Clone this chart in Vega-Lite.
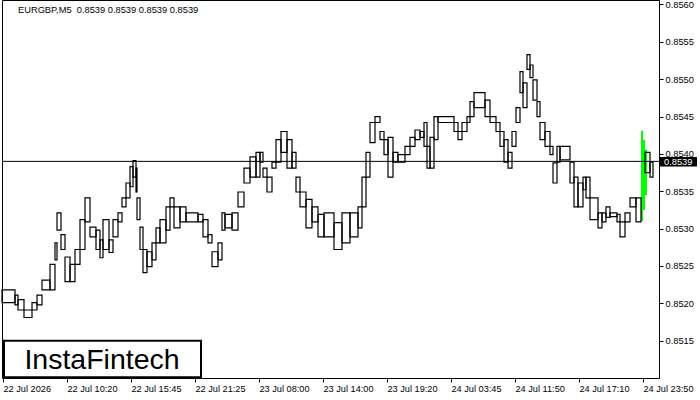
{
  "$schema": "https://vega.github.io/schema/vega-lite/v6.json",
  "width": 657,
  "height": 378,
  "autosize": {"type": "none"},
  "padding": {"left": 2, "top": 0, "right": 41, "bottom": 22},
  "background": "white",
  "config": {
    "view": {"stroke": "black", "strokeWidth": 1},
    "font": "Liberation Sans"
  },
  "datasets": {
    "bars": [
      {"a":2,"b":15,"h":0.85218,"l":0.85201},
      {"a":15,"b":18,"h":0.85211,"l":0.85198},
      {"a":18,"b":24,"h":0.85205,"l":0.85191},
      {"a":24,"b":32,"h":0.85191,"l":0.85181},
      {"a":32,"b":37,"h":0.85201,"l":0.85191},
      {"a":37,"b":42,"h":0.85211,"l":0.85198},
      {"a":42,"b":50,"h":0.85231,"l":0.85218},
      {"a":50,"b":55,"h":0.85252,"l":0.85218},
      {"a":55,"b":57,"h":0.85281,"l":0.85258},
      {"a":57,"b":61,"h":0.85321,"l":0.85298},
      {"a":61,"b":65,"h":0.85292,"l":0.85272},
      {"a":65,"b":70,"h":0.85262,"l":0.85229},
      {"a":70,"b":75,"h":0.85252,"l":0.85229},
      {"a":75,"b":80,"h":0.85272,"l":0.85252},
      {"a":80,"b":85,"h":0.85312,"l":0.85272},
      {"a":85,"b":90,"h":0.85341,"l":0.85309},
      {"a":90,"b":96,"h":0.85302,"l":0.85289},
      {"a":96,"b":100,"h":0.85298,"l":0.85272},
      {"a":100,"b":103,"h":0.85285,"l":0.85261},
      {"a":103,"b":109,"h":0.85312,"l":0.85272},
      {"a":109,"b":113,"h":0.85285,"l":0.85268},
      {"a":113,"b":118,"h":0.85312,"l":0.85289},
      {"a":118,"b":122,"h":0.85321,"l":0.85309},
      {"a":122,"b":126,"h":0.85341,"l":0.85329},
      {"a":126,"b":130,"h":0.85361,"l":0.85341},
      {"a":130,"b":133,"h":0.85383,"l":0.85356},
      {"a":133,"b":136,"h":0.85391,"l":0.85369},
      {"a":136,"b":137,"h":0.85381,"l":0.85349},
      {"a":137,"b":140,"h":0.85341,"l":0.85312},
      {"a":140,"b":143,"h":0.85302,"l":0.85272},
      {"a":143,"b":147,"h":0.85272,"l":0.85241},
      {"a":147,"b":152,"h":0.85269,"l":0.85249},
      {"a":152,"b":156,"h":0.85281,"l":0.85258},
      {"a":156,"b":160,"h":0.85301,"l":0.85281},
      {"a":160,"b":166,"h":0.85312,"l":0.85281},
      {"a":166,"b":170,"h":0.85329,"l":0.85298},
      {"a":170,"b":174,"h":0.85341,"l":0.85329},
      {"a":174,"b":180,"h":0.85329,"l":0.85301},
      {"a":180,"b":186,"h":0.85329,"l":0.85309},
      {"a":186,"b":198,"h":0.85321,"l":0.85309},
      {"a":198,"b":203,"h":0.85319,"l":0.85309},
      {"a":203,"b":208,"h":0.85312,"l":0.85289},
      {"a":208,"b":212,"h":0.85292,"l":0.85281},
      {"a":212,"b":218,"h":0.85269,"l":0.85249},
      {"a":218,"b":222,"h":0.85281,"l":0.85258},
      {"a":222,"b":225,"h":0.85321,"l":0.85298},
      {"a":225,"b":232,"h":0.85319,"l":0.85301},
      {"a":232,"b":238,"h":0.85321,"l":0.85298},
      {"a":238,"b":244,"h":0.85349,"l":0.85329},
      {"a":244,"b":250,"h":0.85381,"l":0.85361},
      {"a":250,"b":256,"h":0.85396,"l":0.85369},
      {"a":256,"b":260,"h":0.85402,"l":0.85369},
      {"a":260,"b":263,"h":0.85402,"l":0.85389},
      {"a":263,"b":267,"h":0.85381,"l":0.85369},
      {"a":267,"b":272,"h":0.85369,"l":0.85349},
      {"a":272,"b":276,"h":0.85389,"l":0.85381},
      {"a":276,"b":281,"h":0.85419,"l":0.85389},
      {"a":281,"b":287,"h":0.85430,"l":0.85402},
      {"a":287,"b":292,"h":0.85419,"l":0.85381},
      {"a":292,"b":296,"h":0.85402,"l":0.85381},
      {"a":296,"b":300,"h":0.85369,"l":0.85349},
      {"a":300,"b":306,"h":0.85349,"l":0.85329},
      {"a":306,"b":312,"h":0.85339,"l":0.85301},
      {"a":312,"b":318,"h":0.85329,"l":0.85309},
      {"a":318,"b":324,"h":0.85319,"l":0.85289},
      {"a":324,"b":334,"h":0.85321,"l":0.85289},
      {"a":334,"b":342,"h":0.85308,"l":0.85272},
      {"a":342,"b":350,"h":0.85321,"l":0.85281},
      {"a":350,"b":358,"h":0.85321,"l":0.85289},
      {"a":358,"b":362,"h":0.85329,"l":0.85301},
      {"a":362,"b":366,"h":0.85369,"l":0.85329},
      {"a":366,"b":370,"h":0.85402,"l":0.85369},
      {"a":370,"b":375,"h":0.85442,"l":0.85415},
      {"a":375,"b":380,"h":0.85450,"l":0.85442},
      {"a":380,"b":384,"h":0.85430,"l":0.85419},
      {"a":384,"b":388,"h":0.85419,"l":0.85399},
      {"a":388,"b":393,"h":0.85422,"l":0.85369},
      {"a":393,"b":398,"h":0.85402,"l":0.85389},
      {"a":398,"b":405,"h":0.85399,"l":0.85389},
      {"a":405,"b":410,"h":0.85410,"l":0.85399},
      {"a":410,"b":415,"h":0.85422,"l":0.85410},
      {"a":415,"b":420,"h":0.85432,"l":0.85419},
      {"a":420,"b":424,"h":0.85430,"l":0.85422},
      {"a":424,"b":427,"h":0.85442,"l":0.85410},
      {"a":427,"b":430,"h":0.85410,"l":0.85381},
      {"a":430,"b":434,"h":0.85422,"l":0.85381},
      {"a":434,"b":438,"h":0.85450,"l":0.85419},
      {"a":438,"b":454,"h":0.85450,"l":0.85442},
      {"a":454,"b":458,"h":0.85442,"l":0.85430},
      {"a":458,"b":462,"h":0.85430,"l":0.85419},
      {"a":462,"b":467,"h":0.85442,"l":0.85430},
      {"a":467,"b":470,"h":0.85450,"l":0.85442},
      {"a":470,"b":474,"h":0.85470,"l":0.85450},
      {"a":474,"b":485,"h":0.85482,"l":0.85462},
      {"a":485,"b":490,"h":0.85472,"l":0.85450},
      {"a":490,"b":496,"h":0.85450,"l":0.85442},
      {"a":496,"b":500,"h":0.85442,"l":0.85430},
      {"a":500,"b":504,"h":0.85430,"l":0.85410},
      {"a":504,"b":508,"h":0.85419,"l":0.85389},
      {"a":508,"b":512,"h":0.85402,"l":0.85381},
      {"a":512,"b":516,"h":0.85430,"l":0.85410},
      {"a":516,"b":520,"h":0.85462,"l":0.85442},
      {"a":520,"b":523,"h":0.85510,"l":0.85482},
      {"a":523,"b":527,"h":0.85495,"l":0.85462},
      {"a":527,"b":530,"h":0.85533,"l":0.85513},
      {"a":530,"b":533,"h":0.85519,"l":0.85502},
      {"a":533,"b":537,"h":0.85499,"l":0.85472},
      {"a":537,"b":540,"h":0.85470,"l":0.85450},
      {"a":540,"b":545,"h":0.85442,"l":0.85419},
      {"a":545,"b":550,"h":0.85430,"l":0.85410},
      {"a":550,"b":553,"h":0.85410,"l":0.85399},
      {"a":553,"b":557,"h":0.85388,"l":0.85361},
      {"a":557,"b":560,"h":0.85410,"l":0.85389},
      {"a":560,"b":570,"h":0.85410,"l":0.85392},
      {"a":570,"b":574,"h":0.85389,"l":0.85361},
      {"a":574,"b":578,"h":0.85369,"l":0.85329},
      {"a":578,"b":583,"h":0.85361,"l":0.85329},
      {"a":583,"b":586,"h":0.85369,"l":0.85352},
      {"a":586,"b":590,"h":0.85369,"l":0.85341},
      {"a":590,"b":598,"h":0.85341,"l":0.85312},
      {"a":598,"b":602,"h":0.85321,"l":0.85301},
      {"a":602,"b":606,"h":0.85321,"l":0.85309},
      {"a":606,"b":610,"h":0.85329,"l":0.85315},
      {"a":610,"b":617,"h":0.85321,"l":0.85316},
      {"a":617,"b":620,"h":0.85319,"l":0.85309},
      {"a":620,"b":625,"h":0.85309,"l":0.85289},
      {"a":625,"b":630,"h":0.85321,"l":0.85309},
      {"a":630,"b":636,"h":0.85341,"l":0.85329},
      {"a":636,"b":641,"h":0.85341,"l":0.85309},
      {"a":645,"b":650,"h":0.85402,"l":0.85375},
      {"a":650,"b":653,"h":0.85389,"l":0.85369}
    ],
    "green": [
      {"a":641,"b":643,"h":0.85431,"l":0.85310},
      {"a":643,"b":645,"h":0.85419,"l":0.85325},
      {"a":645,"b":647,"h":0.85406,"l":0.85345}
    ]
  },
  "layer": [
    {
      "data": {"name": "green"},
      "mark": {"type": "rect", "color": "#00ff00"},
      "encoding": {
        "x": {"field": "a", "type": "quantitative",
              "scale": {"domain": [2, 659], "nice": false, "zero": false},
              "axis": {"values": [3,67,131,195,259,323,387,451,515,579,643],
                       "labelExpr": "['22 Jul 2026','22 Jul 10:20','22 Jul 15:45','22 Jul 21:25','23 Jul 08:00','23 Jul 14:00','23 Jul 19:20','24 Jul 03:45','24 Jul 11:50','24 Jul 17:10','24 Jul 23:50'][round((datum.value-3)/64)]",
                       "title": null, "domain": false, "grid": false,
                       "tickColor": "black", "tickSize": 4, "labelAlign": "left",
                       "labelBaseline": "top", "labelPadding": 2,
                       "labelFont": "Liberation Sans", "labelFontSize": 9.2,
                       "labelColor": "black", "labelFlush": false, "labelOverlap": false}},
        "x2": {"field": "b"},
        "y": {"field": "h", "type": "quantitative",
              "scale": {"domain": [0.851, 0.85606], "nice": false, "zero": false},
              "axis": {"orient": "right", "values": [0.8515,0.852,0.8525,0.853,0.8535,0.854,0.8545,0.855,0.8555,0.856],
                       "format": ".4f", "title": null, "domain": false, "grid": false,
                       "tickColor": "black", "tickSize": 4, "labelPadding": 2,
                       "labelFont": "Liberation Sans", "labelFontSize": 9.3,
                       "labelColor": "black", "labelFlush": false, "labelOverlap": false}},
        "y2": {"field": "l"}
      }
    },
    {
      "data": {"name": "bars"},
      "mark": {"type": "rect", "filled": false, "color": "black", "strokeWidth": 1.2},
      "encoding": {
        "x": {"field": "a", "type": "quantitative"},
        "x2": {"field": "b"},
        "y": {"field": "h", "type": "quantitative"},
        "y2": {"field": "l"}
      }
    },
    {
      "data": {"values": [{}]},
      "mark": {"type": "rule", "color": "black", "strokeWidth": 1},
      "encoding": {"y": {"datum": 0.8539}}
    },
    {
      "data": {"values": [{}]},
      "mark": {"type": "rect", "color": "black", "clip": false},
      "encoding": {
        "x": {"datum": 660}, "x2": {"datum": 697},
        "y": {"datum": 0.85396}, "y2": {"datum": 0.85383}
      }
    },
    {
      "data": {"values": [{}]},
      "mark": {"type": "text", "color": "white", "align": "left", "baseline": "middle",
               "font": "Liberation Sans", "fontSize": 9.3, "clip": false},
      "encoding": {
        "x": {"datum": 664}, "y": {"datum": 0.853895},
        "text": {"value": "0.8539"}
      }
    },
    {
      "data": {"values": [{}]},
      "mark": {"type": "text", "color": "black", "align": "left", "baseline": "middle",
               "font": "Liberation Sans", "fontSize": 9.3},
      "encoding": {
        "x": {"datum": 18}, "y": {"datum": 0.85592},
        "text": {"value": "EURGBP,M5 \u00a00.8539 0.8539 0.8539 0.8539"}
      }
    },
    {
      "data": {"values": [{}]},
      "mark": {"type": "rect", "fill": "white", "stroke": "black", "strokeWidth": 2},
      "encoding": {
        "x": {"datum": 4}, "x2": {"datum": 201},
        "y": {"datum": 0.851498}, "y2": {"datum": 0.85101}
      }
    },
    {
      "data": {"values": [{}]},
      "mark": {"type": "text", "color": "black", "align": "center", "baseline": "middle",
               "font": "Liberation Sans", "fontSize": 28.5},
      "encoding": {
        "x": {"datum": 102}, "y": {"datum": 0.851245},
        "text": {"value": "InstaFintech"}
      }
    }
  ]
}
